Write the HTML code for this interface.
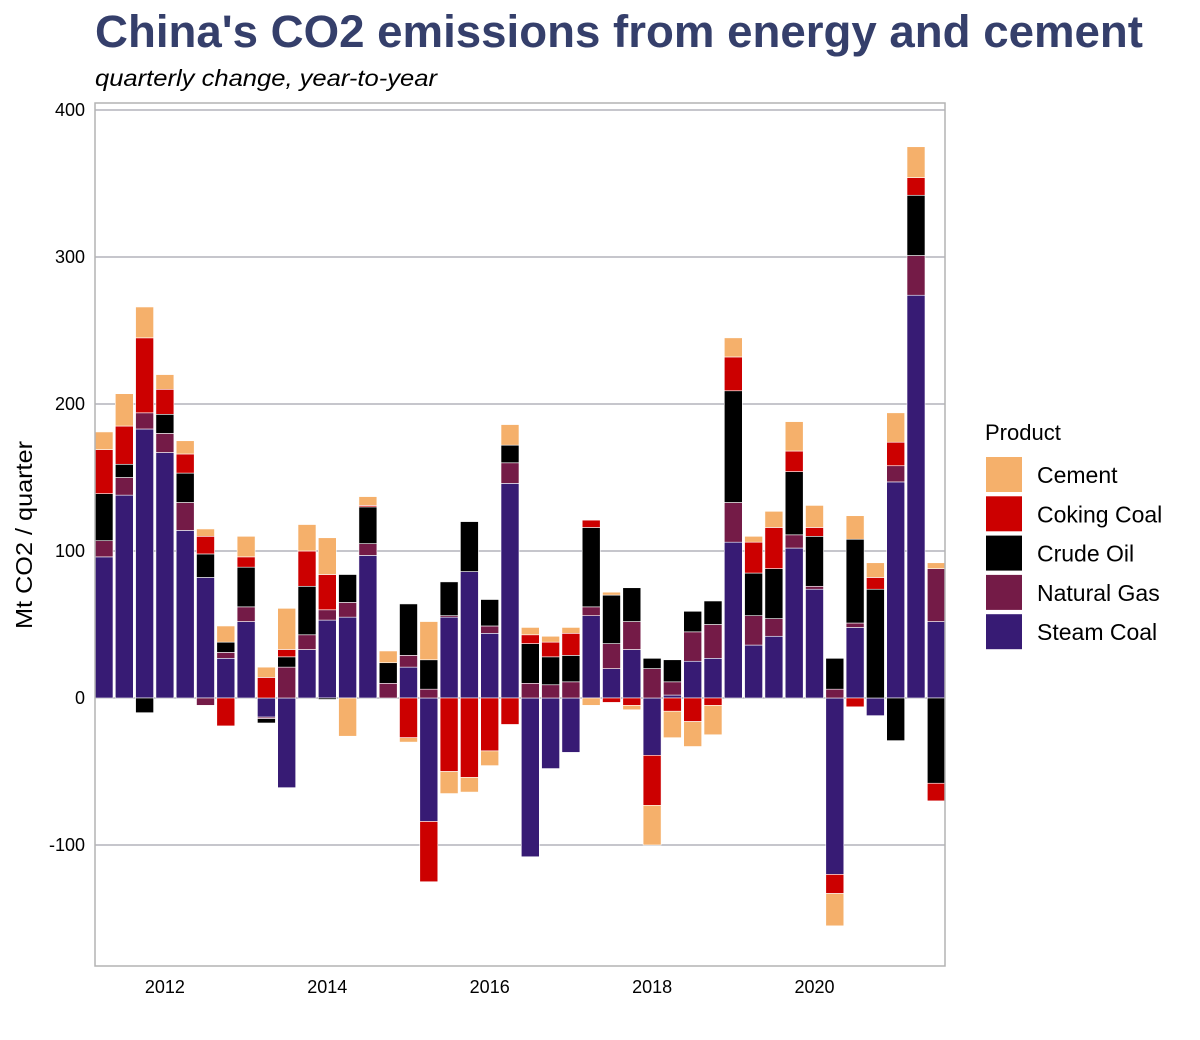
<!DOCTYPE html>
<html><head><meta charset="utf-8"><style>
body{margin:0;background:#fff;}
svg{display:block;font-family:"Liberation Sans",Arial,sans-serif;}
</style></head><body>
<svg id="chart" width="1200" height="1040" viewBox="0 0 1200 1040">
<text x="95" y="47" font-size="45" font-weight="bold" fill="#353f6b" textLength="1048" lengthAdjust="spacingAndGlyphs">China's CO2 emissions from energy and cement</text>
<text x="95" y="86" font-size="23" font-style="italic" fill="#000" textLength="342" lengthAdjust="spacingAndGlyphs">quarterly change, year-to-year</text>
<g id="grid"></g>
<g id="bars"></g>
<rect x="95" y="103" width="850" height="863" fill="none" stroke="#b3b3b3" stroke-width="1.5"/>
<g id="yticks"></g>
<g id="xticks"></g>
<text transform="translate(32,535) rotate(-90)" text-anchor="middle" font-size="23" fill="#000" textLength="188" lengthAdjust="spacingAndGlyphs">Mt CO2 / quarter</text>
<g id="legend">
<text x="985" y="440" font-size="22" fill="#000">Product</text>
</g>
</svg>
<script>
const series = ["Steam Coal","Natural Gas","Crude Oil","Coking Coal","Cement"];
const legendOrder = ["Cement","Coking Coal","Crude Oil","Natural Gas","Steam Coal"];
const colors = {"Cement":"#f5b06b","Coking Coal":"#cc0000","Crude Oil":"#000000","Natural Gas":"#741b47","Steam Coal":"#371b74"};
const startYear = 2011.25;
const steamCoal = [96,138,183,167,114,82,27,52,-13,-61,33,53,55,97,0,21,-84,55,86,44,146,-108,-48,-37,56,20,33,-39,2,25,27,106,36,42,102,74,-120,48,-12,147,274,52];
const naturalGas = [11,12,11,13,19,-5,4,10,-1,21,10,7,10,8,10,8,6,1,0,5,14,10,9,11,6,17,19,20,9,20,23,27,20,12,9,2,6,3,0,11,27,36];
const crudeOil = [32,9,-10,13,20,16,7,27,-3,7,33,-1,19,25,14,35,20,23,34,18,12,27,19,18,54,33,23,7,15,14,16,76,29,34,43,34,21,57,74,-29,41,-58];
const cokingCoal = [30,26,51,17,13,12,-19,7,14,5,24,24,0,1,0,-27,-41,-50,-54,-36,-18,6,10,15,5,-3,-5,-34,-9,-16,-5,23,21,28,14,6,-13,-6,8,16,12,-12];
const cement = [12,22,21,10,9,5,11,14,7,28,18,25,-26,6,8,-3,26,-15,-10,-10,14,5,4,4,-5,2,-3,-27,-18,-17,-20,13,4,11,20,15,-22,16,10,20,21,4];
const yTicks = [-100,0,100,200,300,400];
const xTicks = [2012,2014,2016,2018,2020];
const seriesData = {"Steam Coal":steamCoal,"Natural Gas":naturalGas,"Crude Oil":crudeOil,"Coking Coal":cokingCoal,"Cement":cement};

const NS="http://www.w3.org/2000/svg";
const y = v => 698 - v*1.47;
const x = t => 104 + (t - startYear)*81.2;
const bw = 18;
function mk(tag, attrs, parent){const e=document.createElementNS(NS,tag);for(const k in attrs)e.setAttribute(k,attrs[k]);parent.appendChild(e);return e;}

const grid=document.getElementById('grid'), yt=document.getElementById('yticks'), xt=document.getElementById('xticks');
yTicks.forEach(v=>{
  const l=mk('line',{x1:95,x2:945,y1:y(v),y2:y(v),stroke:'#b3b3bb','stroke-width':1.5},grid);
  
  
  const t=mk('text',{x:85,y:y(v)+6,'text-anchor':'end','font-size':18,fill:'#000'},yt);
  t.textContent=v;
  
  
});
xTicks.forEach(v=>{
  const t=mk('text',{x:x(v),y:993,'text-anchor':'middle','font-size':18,fill:'#000'},xt);
  t.textContent=v;
  
  
});
const bars=document.getElementById('bars');
for(let i=0;i<steamCoal.length;i++){
  const cx=x(startYear+i*0.25);
  let pos=0,neg=0;
  series.forEach(s=>{
    const v=seriesData[s][i];
    if(!v)return;
    let a,b;
    if(v>0){a=pos;b=pos+v;pos=b;}else{a=neg;b=neg+v;neg=b;}
    const r=mk('rect',{x:cx-bw/2,y:Math.min(y(a),y(b)),width:bw,height:Math.abs(y(a)-y(b)),fill:colors[s],stroke:'#fff','stroke-width':0.6},bars);
    
    
  });
}
const lg=document.getElementById('legend');
legendOrder.forEach((s,k)=>{
  const yy=457+k*39.3;
  const r=mk('rect',{x:986,y:yy,width:36,height:35,fill:colors[s]},lg);
  
  
  const t=mk('text',{x:1037,y:yy+26,'font-size':23,fill:'#000'},lg);
  t.textContent=s;
  
  
});
</script>
</body></html>
